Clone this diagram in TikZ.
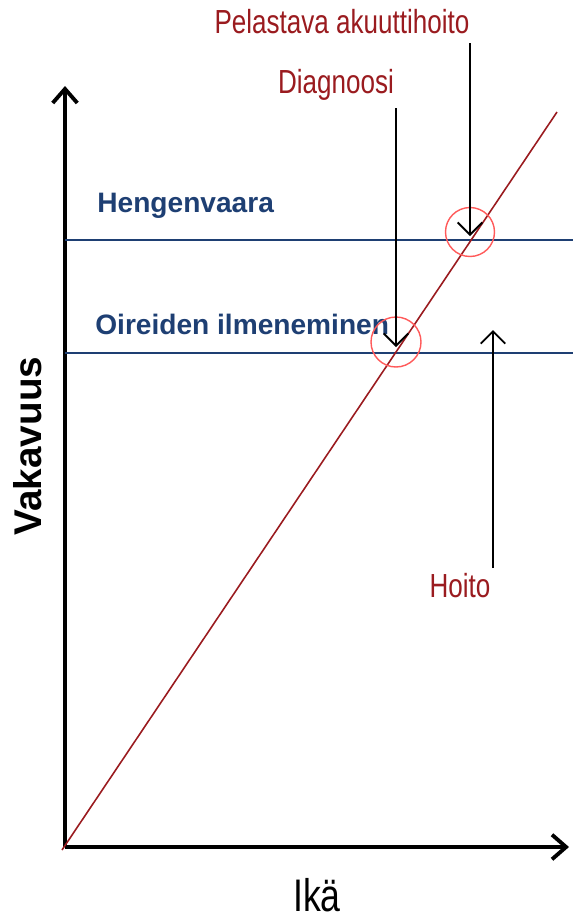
\documentclass[tikz,border=0pt]{standalone}
\usepackage{fontspec}
\setmainfont{Liberation Sans}
\newfontfamily\narrowfont[FakeStretch=0.78]{Liberation Sans}
\usepackage{xcolor}
\usetikzlibrary{positioning,arrows.meta}

\definecolor{darkred}{HTML}{9A1B1F}
\definecolor{levelblue}{HTML}{1E3F73}
\definecolor{ringred}{HTML}{FF5A5A}

\begin{document}
\begin{tikzpicture}[
  x=0.02cm, y=-0.02cm,
  axis/.style={line width=2.2pt, -{Straight Barb[length=8pt,width=14pt,line width=2.2pt]}},
  pointer/.style={line width=1.1pt, -{Straight Barb[length=7pt,width=14pt,line width=1.1pt]}},
  level/.style={levelblue, line width=1.2pt},
  levellabel/.style={text=levelblue, font=\bfseries\fontsize{16}{18}\selectfont, anchor=west, inner sep=0pt},
  eventlabel/.style={text=darkred, font=\narrowfont\fontsize{19}{22}\selectfont, inner sep=0pt},
  ring/.style={draw=ringred, circle, line width=0.8pt, inner sep=0pt}
]
  \useasboundingbox (0,0) rectangle (573,921);

  % axes
  \coordinate (origin) at (65,847);
  \coordinate (ytip) at (65,86);
  \coordinate (xtip) at (569,847);
  \draw[axis] (origin) -- (ytip);
  \draw[axis] (origin) -- (xtip);
  \node[font=\bfseries\fontsize{22}{24}\selectfont, rotate=90] (vakavuus) at (28,446) {Vakavuus};
  \node[font=\narrowfont\fontsize{26}{28}\selectfont] (ika) at (317,895) {Ikä};

  % levels
  \coordinate (hv-left) at (65,240);
  \coordinate (hv-right) at (573,240);
  \coordinate (oi-left) at (65,353);
  \coordinate (oi-right) at (573,353);
  \draw[level] (hv-left) -- (hv-right);
  \draw[level] (oi-left) -- (oi-right);
  \node[levellabel] (hengenvaara) at (97,206) {Hengenvaara};
  \node[levellabel] (oireet) at (95,324) {Oireiden ilmeneminen};

  % progression
  \coordinate (start) at (62,850);
  \coordinate (end) at (557,112);
  \draw[darkred, line width=0.9pt] (start) -- (end);
  \node[ring, minimum size=0.98cm] (ring-top) at (470,232) {};
  \node[ring, minimum size=1cm] (ring-low) at (396,342) {};

  % events
  \node[eventlabel] (pelastava) at (342,22) {Pelastava akuuttihoito};
  \node[eventlabel] (diagnoosi) at (336,85) {Diagnoosi};
  \node[eventlabel] (hoito) at (460,586) {Hoito};
  \coordinate (pel-from) at (470,43);
  \coordinate (pel-to) at (470,236);
  \coordinate (dia-from) at (396,108);
  \coordinate (dia-to) at (396,347);
  \coordinate (hoi-from) at (493,568);
  \coordinate (hoi-to) at (493,330);
  \draw[pointer] (pel-from) -- (pel-to);
  \draw[pointer] (dia-from) -- (dia-to);
  \draw[pointer] (hoi-from) -- (hoi-to);
\end{tikzpicture}
\end{document}
